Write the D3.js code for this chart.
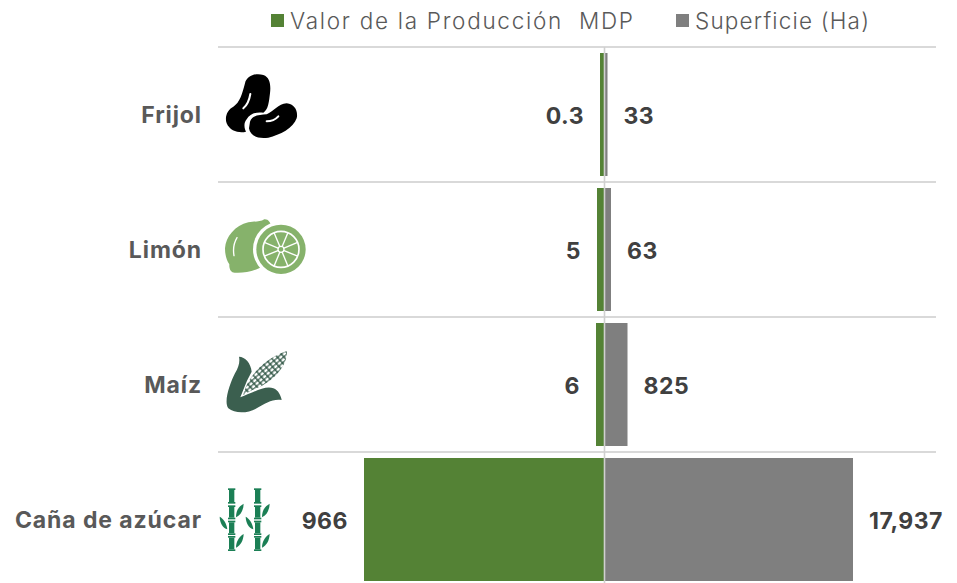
<!DOCTYPE html>
<html><head><meta charset="utf-8">
<script src="https://cdn.jsdelivr.net/npm/d3@7"></script>
<style>html,body{margin:0;padding:0;background:#fff}svg{display:block}text{font-family:Inter,"Open Sans",sans-serif}</style>
</head><body><svg id="c" width="957" height="583"></svg>
<script>
const categories = ["Frijol","Limón","Maíz","Caña de azúcar"];
const valorProduccion = [0.3,5,6,966];
const superficie = [33,63,825,17937];
const valorLabels = ["0.3","5","6","966"];
const superficieLabels = ["33","63","825","17,937"];
const legendLabels = ["Valor de la Producción  MDP","Superficie (Ha)"];
const GREEN="#548235", GRAY="#7f7f7f";
const svg=d3.select("#c");
const cx=604.5;
// The reference's bars are not proportional to their labels: both axes are piecewise
const xR=d3.scaleLinear().domain([0,33,63,825,17937]).range([cx,607.5,611,627.5,853]);
const xL=d3.scaleLinear().domain([0,0.3,5,6,966]).range([cx,600,597,596,364]);
const y=d3.scaleBand().domain(categories).range([47,587]).paddingInner(0).paddingOuter(0);
const barTop=c=>y(c)+6, barH=123;

// grid
svg.append("g").selectAll("line").data(categories).join("line")
 .attr("x1",218).attr("x2",936).attr("y1",c=>y(c)).attr("y2",c=>y(c))
 .attr("stroke","#d9d9d9").attr("stroke-width",2);

// bars
svg.append("g").selectAll("rect").data(categories).join("rect")
 .attr("x",(c,i)=>xL(valorProduccion[i])).attr("y",barTop)
 .attr("width",(c,i)=>cx-xL(valorProduccion[i])).attr("height",barH).attr("fill",GREEN);
svg.append("g").selectAll("rect").data(categories).join("rect")
 .attr("x",cx).attr("y",barTop)
 .attr("width",(c,i)=>xR(superficie[i])-cx).attr("height",barH).attr("fill",GRAY);
// axis
svg.append("line").attr("x1",cx).attr("x2",cx).attr("y1",47).attr("y2",583).attr("stroke","#d0d0d0").attr("stroke-width",1.6);

// category labels
svg.append("g").selectAll("text").data(categories).join("text")
 .attr("x",202).attr("y",c=>y(c)+y.bandwidth()/2+8.5).attr("text-anchor","end")
 .attr("font-size",23).attr("font-weight",700).attr("fill","#595959").attr("letter-spacing",0.9).text(c=>c);
// value labels
svg.append("g").selectAll("text").data(categories).join("text")
 .attr("x",(c,i)=>xL(valorProduccion[i])-16).attr("y",c=>y(c)+y.bandwidth()/2+9)
 .attr("text-anchor","end").attr("font-size",23).attr("font-weight",700).attr("fill","#404040")
 .attr("letter-spacing",0.5).text((c,i)=>valorLabels[i]);
svg.append("g").selectAll("text").data(categories).join("text")
 .attr("x",(c,i)=>xR(superficie[i])+16).attr("y",c=>y(c)+y.bandwidth()/2+9)
 .attr("text-anchor","start").attr("font-size",23).attr("font-weight",700).attr("fill","#404040")
 .attr("letter-spacing",0.5).text((c,i)=>superficieLabels[i]);

// legend
const lg=svg.append("g");
[[271,290,343,GREEN],[676,695,174,GRAY]].forEach((d,i)=>{
 lg.append("rect").attr("x",d[0]).attr("y",14).attr("width",13).attr("height",13).attr("fill",d[3]);
 lg.append("text").attr("x",d[1]).attr("y",28.5).attr("font-size",22.5).attr("font-weight",300).attr("fill","#595959")
  .attr("textLength",d[2]).attr("lengthAdjust","spacing").attr("xml:space","preserve").style("white-space","pre").text(legendLabels[i]);
});

// icons, drawn in 3x units
const defs=svg.append("defs");
const pat=defs.append("pattern").attr("id","kern").attr("patternUnits","userSpaceOnUse").attr("width",15).attr("height",11)
 .attr("patternTransform","rotate(-42)");
pat.append("rect").attr("width",15).attr("height",11).attr("fill","#3b5f4f");
pat.append("rect").attr("x",1.5).attr("y",1.5).attr("width",11).attr("height",7.5).attr("rx",3).attr("fill","#fff");

const bean=svg.append("g").attr("transform","translate(215,60) scale(.3333)").attr("fill","#000");
bean.append("path").attr("d","M90 70C95 45 125 38 145 45C165 52 168 75 165 100C162 125 160 150 145 158C125 155 105 160 95 178C85 190 88 205 93 215C75 220 45 215 35 190C28 170 38 148 55 140C75 128 82 100 90 70Z");
bean.append("path").attr("d","M105 185C110 165 135 165 155 163C175 155 190 132 215 130C240 132 250 155 245 175C235 205 195 225 160 233C125 238 105 225 102 205Z");
bean.append("path").attr("d","M106 102C103 120 97 135 85 145").attr("fill","none").attr("stroke","#fff").attr("stroke-width",6).attr("stroke-linecap","round");
bean.append("path").attr("d","M155 184C170 184 182 178 190 169").attr("fill","none").attr("stroke","#fff").attr("stroke-width",6).attr("stroke-linecap","round");

const lemonC="#86b26b";
const lem=svg.append("g").attr("transform","translate(215,205) scale(.3333)");
lem.append("path").attr("fill",lemonC).attr("d","M30 130C32 95 60 62 100 52C120 48 135 52 148 43C160 42 166 52 170 65C185 85 190 120 175 160C150 190 100 205 62 203C50 205 42 195 43 178C34 165 30 148 30 130Z");
lem.append("path").attr("d","M66 98C56 115 54 135 57 152").attr("fill","none").attr("stroke","#fff").attr("stroke-width",4).attr("stroke-linecap","round");
lem.append("circle").attr("cx",198).attr("cy",133).attr("r",84).attr("fill","#fff");
lem.append("circle").attr("cx",198).attr("cy",133).attr("r",74).attr("fill",lemonC);
lem.append("circle").attr("cx",198).attr("cy",133).attr("r",54).attr("fill","none").attr("stroke","#fff").attr("stroke-width",5);
d3.range(8).forEach(i=>{const a=i*Math.PI/4+Math.PI/8;
 lem.append("line").attr("x1",198).attr("y1",133).attr("x2",198+54*Math.cos(a)).attr("y2",133+54*Math.sin(a)).attr("stroke","#fff").attr("stroke-width",4);});
lem.append("circle").attr("cx",198).attr("cy",133).attr("r",9).attr("fill",lemonC).attr("stroke","#fff").attr("stroke-width",4);

const corn=svg.append("g").attr("transform","translate(215,340) scale(.3333)");
corn.append("path").attr("fill","url(#kern)").attr("d","M85 165C95 115 145 55 216 33C218 80 170 130 112 150Z");
corn.append("path").attr("fill","#3b5f4f").attr("d","M72 50C90 50 108 70 110 95L96 122L76 172C110 160 150 135 175 145C190 150 198 168 200 180C175 175 150 190 125 205C100 220 60 222 40 205C25 185 45 130 60 100C72 80 75 65 72 50Z");

const bamboo="#1b7f55";
const bam=svg.append("g").attr("transform","translate(210,480) scale(.3333)");
[0,78].forEach(dx=>{
 const g=bam.append("g").attr("transform",`translate(${dx},0)`).attr("fill",bamboo);
 [[25,46],[76,42],[122,43],[168,45]].forEach(s=>{
  g.append("rect").attr("x",54).attr("y",s[0]).attr("width",22).attr("height",5);
  g.append("rect").attr("x",57).attr("y",s[0]+5).attr("width",16).attr("height",s[1]-10);
  g.append("rect").attr("x",54).attr("y",s[0]+s[1]-5).attr("width",22).attr("height",5);
 });
 g.append("path").attr("d","M78 112C78 90 88 78 101 71C100 92 92 105 78 112Z");
 g.append("path").attr("d","M52 148C50 130 40 116 29 110C30 130 38 143 52 148Z");
 g.append("path").attr("d","M78 203C78 184 88 170 101 162C100 182 92 196 78 203Z");
});
</script></body></html>
